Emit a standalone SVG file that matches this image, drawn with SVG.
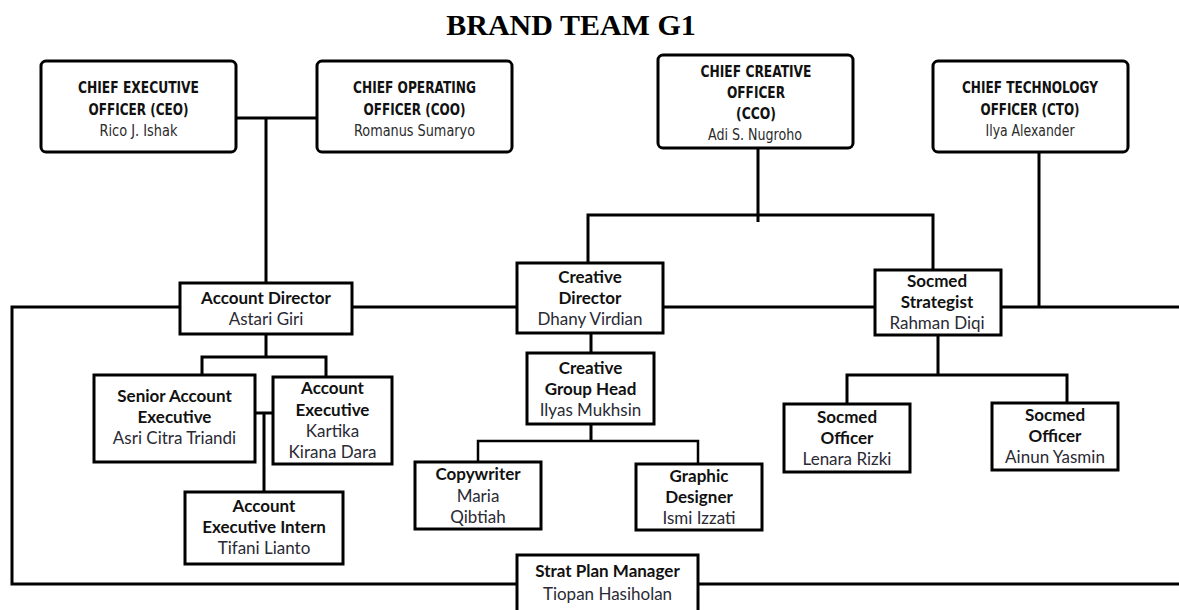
<svg xmlns="http://www.w3.org/2000/svg" width="1179" height="610" viewBox="0 0 1179 610">
<style>
.bx{fill:#fff;stroke:#000;stroke-width:3}
.c{fill:none;stroke:#000;stroke-width:3}
.c2{fill:none;stroke:#000;stroke-width:2.5}
.h{font-family:"DejaVu Sans Condensed","DejaVu Sans",sans-serif;font-weight:bold;font-size:16.5px;fill:#111;text-anchor:middle}
.hn{font-family:"DejaVu Sans Condensed","DejaVu Sans",sans-serif;font-size:16.5px;fill:#2a2a2a;text-anchor:middle}
.t{font-family:Lato,"Liberation Sans",sans-serif;font-weight:bold;font-size:17px;fill:#111;text-anchor:middle}
.n{font-family:Lato,"Liberation Sans",sans-serif;font-size:17px;fill:#2a2a35;text-anchor:middle}
.title{font-family:"Liberation Serif",serif;font-weight:bold;font-size:30px;fill:#000;text-anchor:middle}
</style>
<rect width="1179" height="610" fill="#fff"/>
<text class="title" x="571" y="35">BRAND TEAM G1</text>

<g id="connectors">
<path class="c" d="M236 118 H317 M266 118 V283"/>
<path class="c" d="M1179 307 H12 V584 H1179"/>
<path class="c" d="M266 334 V357 M202 375 V357 H326 V377"/>
<path class="c" d="M255 413 H273 M264 413 V492"/>
<path class="c" d="M758 148 V222 M588 263 V215 H933 V270"/>
<path class="c" d="M1039 152 V307"/>
<path class="c" d="M591 333 V353 M591 424 V441"/>
<path class="c2" d="M478 462 V441 H698 V464"/>
<path class="c" d="M938 335 V375 M847 404 V375 H1067 V403"/>
</g>

<g id="ceo">
<rect class="bx" x="41" y="61" width="195" height="91" rx="5"/>
<text class="h" x="138.5" y="93" textLength="121" lengthAdjust="spacingAndGlyphs">CHIEF EXECUTIVE</text>
<text class="h" x="138.5" y="115" textLength="100" lengthAdjust="spacingAndGlyphs">OFFICER (CEO)</text>
<text class="hn" x="138.5" y="136" textLength="78" lengthAdjust="spacingAndGlyphs">Rico J. Ishak</text>
</g>
<g id="coo">
<rect class="bx" x="317" y="61" width="195" height="91" rx="5"/>
<text class="h" x="414.5" y="93" textLength="123" lengthAdjust="spacingAndGlyphs">CHIEF OPERATING</text>
<text class="h" x="414.5" y="115" textLength="102" lengthAdjust="spacingAndGlyphs">OFFICER (COO)</text>
<text class="hn" x="414.5" y="136" textLength="121" lengthAdjust="spacingAndGlyphs">Romanus Sumaryo</text>
</g>
<g id="cco">
<rect class="bx" x="658" y="55" width="195" height="93" rx="5"/>
<text class="h" x="756" y="77" textLength="111" lengthAdjust="spacingAndGlyphs">CHIEF CREATIVE</text>
<text class="h" x="756" y="98" textLength="58" lengthAdjust="spacingAndGlyphs">OFFICER</text>
<text class="h" x="756" y="119" textLength="40" lengthAdjust="spacingAndGlyphs">(CCO)</text>
<text class="hn" x="755" y="140" textLength="94" lengthAdjust="spacingAndGlyphs">Adi S. Nugroho</text>
</g>
<g id="cto">
<rect class="bx" x="933" y="61" width="195" height="91" rx="5"/>
<text class="h" x="1030" y="93" textLength="136" lengthAdjust="spacingAndGlyphs">CHIEF TECHNOLOGY</text>
<text class="h" x="1030" y="115" textLength="99" lengthAdjust="spacingAndGlyphs">OFFICER (CTO)</text>
<text class="hn" x="1030" y="136" textLength="89" lengthAdjust="spacingAndGlyphs">Ilya Alexander</text>
</g>

<g id="account-director">
<rect class="bx" x="180" y="283" width="172" height="51"/>
<text class="t" x="266" y="304">Account Director</text>
<text class="n" x="266" y="325">Astari Giri</text>
</g>
<g id="senior-ae">
<rect class="bx" x="94" y="375" width="161" height="87"/>
<text class="t" x="174.5" y="402">Senior Account</text>
<text class="t" x="174.5" y="423">Executive</text>
<text class="n" x="174.5" y="444">Asri Citra Triandi</text>
</g>
<g id="ae">
<rect class="bx" x="273" y="377" width="119" height="87"/>
<text class="t" x="332.5" y="394">Account</text>
<text class="t" x="332.5" y="416">Executive</text>
<text class="n" x="332.5" y="437">Kartika</text>
<text class="n" x="332.5" y="458">Kirana Dara</text>
</g>
<g id="ae-intern">
<rect class="bx" x="185" y="492" width="158" height="72"/>
<text class="t" x="264" y="512">Account</text>
<text class="t" x="264" y="533">Executive Intern</text>
<text class="n" x="264" y="554">Tifani Lianto</text>
</g>
<g id="creative-director">
<rect class="bx" x="517" y="263" width="146" height="70"/>
<text class="t" x="590" y="283">Creative</text>
<text class="t" x="590" y="304">Director</text>
<text class="n" x="590" y="325">Dhany Virdian</text>
</g>
<g id="creative-group-head">
<rect class="bx" x="527" y="353" width="127" height="71"/>
<text class="t" x="590.5" y="374">Creative</text>
<text class="t" x="590.5" y="395">Group Head</text>
<text class="n" x="590.5" y="416">Ilyas Mukhsin</text>
</g>
<g id="copywriter">
<rect class="bx" x="415" y="462" width="126" height="67"/>
<text class="t" x="478" y="480">Copywriter</text>
<text class="n" x="478" y="502">Maria</text>
<text class="n" x="478" y="523">Qibtiah</text>
</g>
<g id="graphic-designer">
<rect class="bx" x="636" y="464" width="126" height="66"/>
<text class="t" x="699" y="482">Graphic</text>
<text class="t" x="699" y="503">Designer</text>
<text class="n" x="699" y="524">Ismi Izzati</text>
</g>
<g id="socmed-strategist">
<rect class="bx" x="875" y="270" width="126" height="65"/>
<text class="t" x="937" y="287">Socmed</text>
<text class="t" x="937" y="308">Strategist</text>
<text class="n" x="937" y="329">Rahman Diqi</text>
</g>
<g id="socmed-officer-1">
<rect class="bx" x="784" y="404" width="126" height="68"/>
<text class="t" x="847" y="423">Socmed</text>
<text class="t" x="847" y="444">Officer</text>
<text class="n" x="847" y="465">Lenara Rizki</text>
</g>
<g id="socmed-officer-2">
<rect class="bx" x="992" y="403" width="126" height="67"/>
<text class="t" x="1055" y="421">Socmed</text>
<text class="t" x="1055" y="442">Officer</text>
<text class="n" x="1055" y="463">Ainun Yasmin</text>
</g>
<g id="strat-plan-manager">
<rect class="bx" x="517" y="555" width="181" height="65"/>
<text class="t" x="607.5" y="577">Strat Plan Manager</text>
<text class="n" x="607.5" y="600">Tiopan Hasiholan</text>
</g>
</svg>
